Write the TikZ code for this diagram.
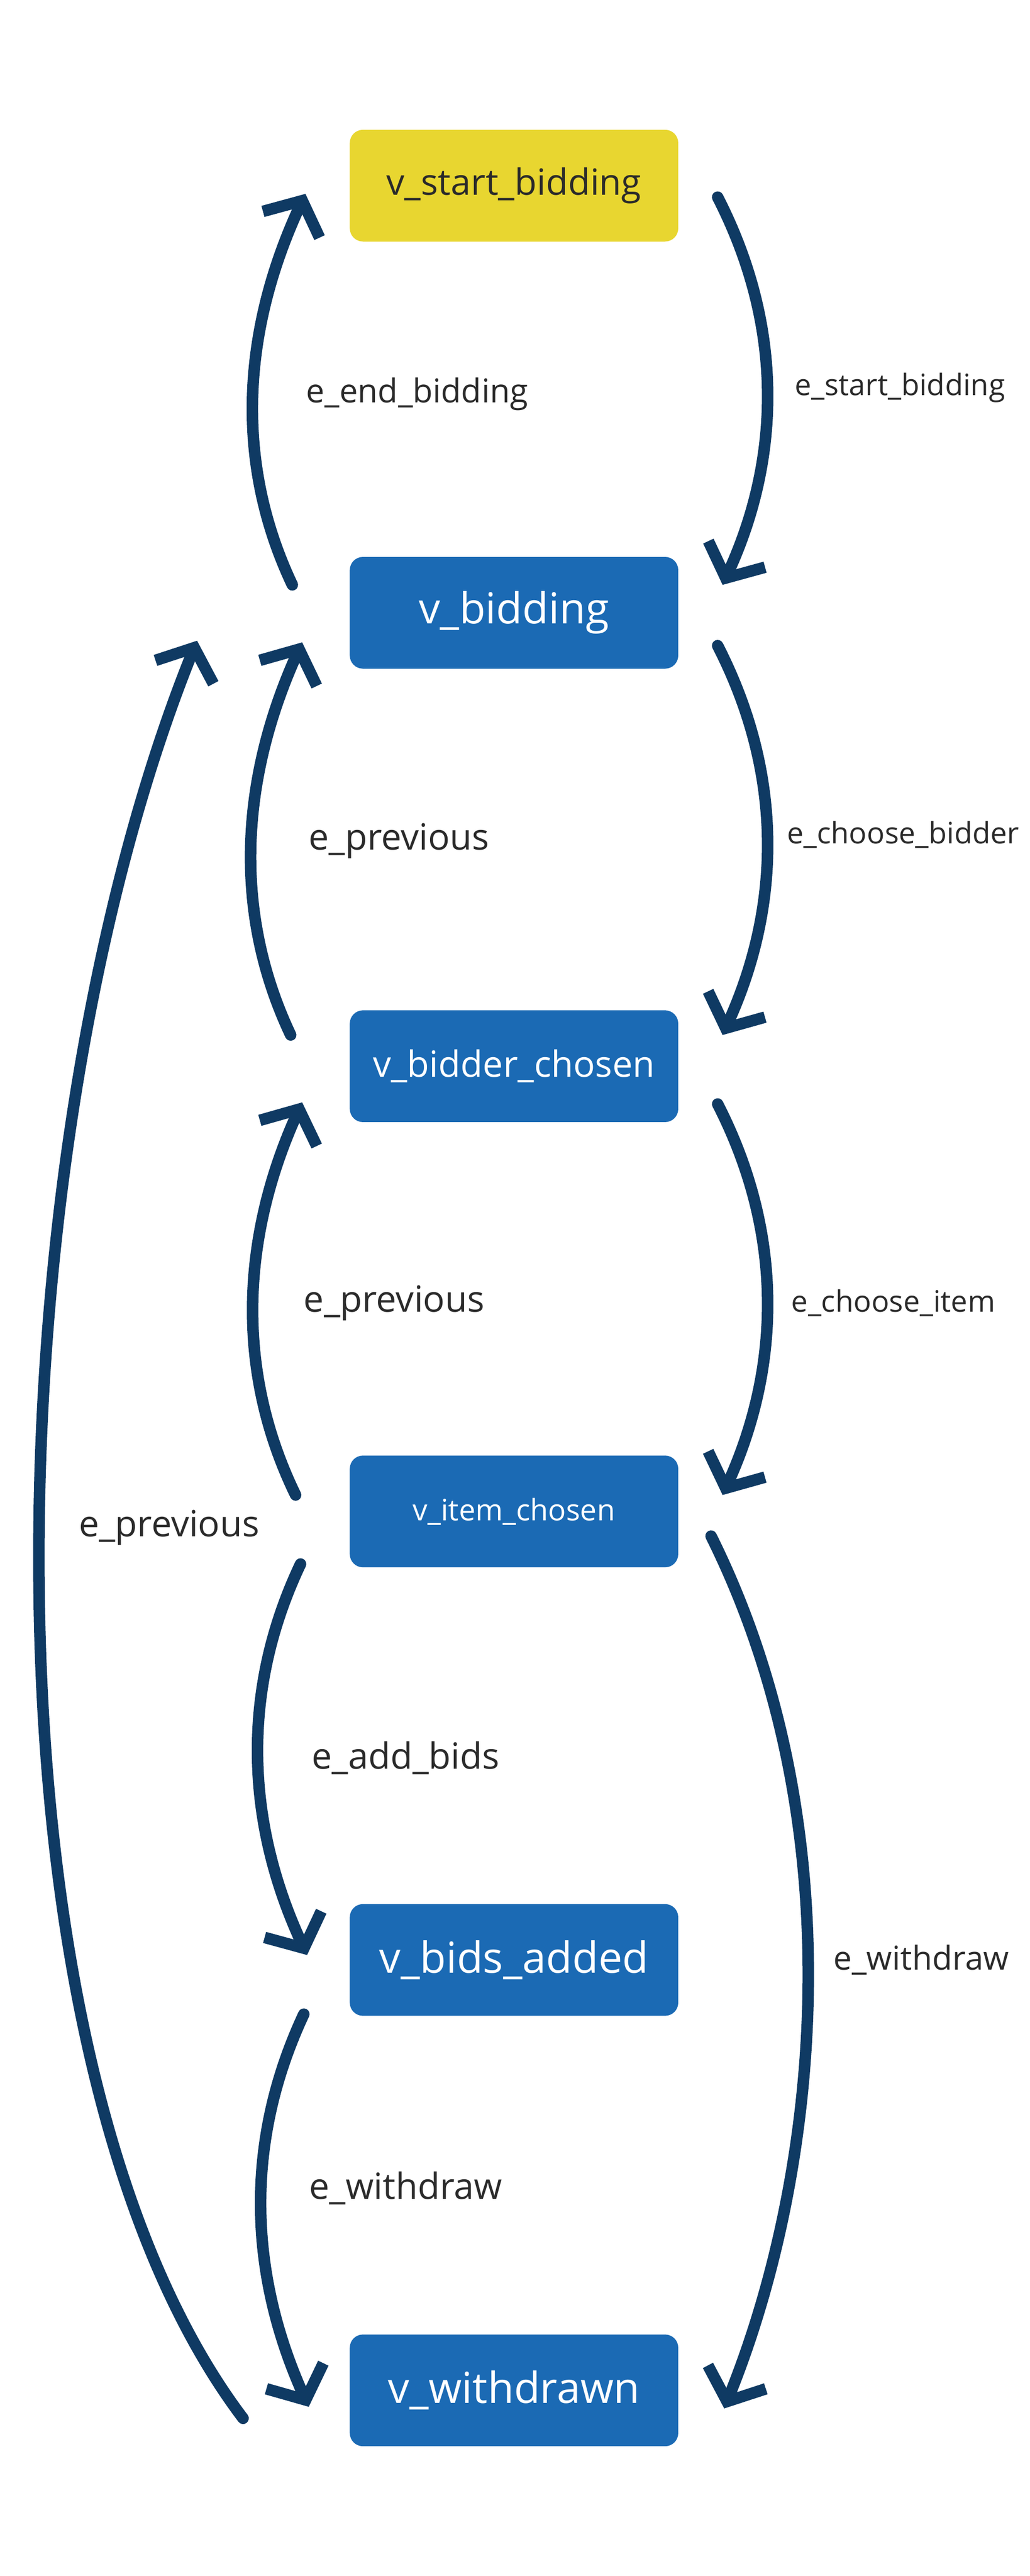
\documentclass[tikz,border=0pt]{standalone}
\usepackage{fontspec}
\setmainfont{Open Sans}
\usetikzlibrary{arrows.meta}
\definecolor{nblue}{HTML}{1B6AB4}
\definecolor{nyellow}{HTML}{E8D630}
\definecolor{edge}{HTML}{0F3A63}
\definecolor{txt}{HTML}{2A2A2A}
\begin{document}
\begin{tikzpicture}[x=1pt,y=-1pt,
  state/.style={rounded corners=8pt,minimum width=200pt,minimum height=68pt,fill=nblue,text=white,inner sep=0pt},
  conn/.style={draw=edge,line width=7pt,line cap=round,-{Straight Barb[length=16pt,width=38pt,line width=7pt]}},
  lbl/.style={text=txt,font=\fontsize{22}{26}\selectfont}]
\useasboundingbox (0,0) rectangle (627,1568);
\node[state,fill=nyellow,text=txt,font=\fontsize{22}{26}\selectfont] (s) at (313,113) {v\_start\_bidding};
\node[state,font=\fontsize{26}{30}\selectfont] (b) at (313,373) {v\_bidding};
\node[state,font=\fontsize{22}{26}\selectfont] (bc) at (313,649) {v\_bidder\_chosen};
\node[state,font=\fontsize{18}{22}\selectfont] (ic) at (313,920) {v\_item\_chosen};
\node[state,font=\fontsize{26}{30}\selectfont] (ba) at (313,1193) {v\_bids\_added};
\node[state,font=\fontsize{26}{30}\selectfont] (w) at (313,1455) {v\_withdrawn};
% coordinates
\coordinate (r1a) at (437,120); \coordinate (r1b) at (440,356);
\coordinate (r2a) at (437,393); \coordinate (r2b) at (440,630);
\coordinate (r3a) at (437,672); \coordinate (r3b) at (440,910);
\coordinate (l1a) at (178,356); \coordinate (l1b) at (186,118);
\coordinate (l2a) at (177,630); \coordinate (l2b) at (184,391);
\coordinate (l3a) at (180,910); \coordinate (l3b) at (184,671);
\coordinate (d1a) at (183,952); \coordinate (d1b) at (187,1190);
\coordinate (d2a) at (185,1226); \coordinate (d2b) at (188,1465);
\coordinate (ga) at (148,1472); \coordinate (gb) at (120,390);
\coordinate (ha) at (433,935); \coordinate (hb) at (441,1466);
\draw[conn] (r1a) .. controls (478,200) and (475,280) .. (r1b);
\draw[conn] (r2a) .. controls (478,473) and (475,553) .. (r2b);
\draw[conn] (r3a) .. controls (478,752) and (475,833) .. (r3b);
\draw[conn] (l1a) .. controls (142,280) and (148,200) .. (l1b);
\draw[conn] (l2a) .. controls (141,554) and (147,473) .. (l2b);
\draw[conn] (l3a) .. controls (143,834) and (147,753) .. (l3b);
\draw[conn] (d1a) .. controls (146,1030) and (150,1110) .. (d1b);
\draw[conn] (d2a) .. controls (148,1305) and (152,1385) .. (d2b);
\draw[conn] (ga) .. controls (-20,1250) and (-5,700) .. (gb);
\draw[conn] (ha) .. controls (520,1110) and (500,1320) .. (hb);
\node[lbl,font=\fontsize{20}{24}\selectfont] at (254,240) {e\_end\_bidding};
\node[lbl,font=\fontsize{18}{22}\selectfont] at (548,236) {e\_start\_bidding};
\node[lbl] at (243,512) {e\_previous};
\node[lbl,font=\fontsize{18}{22}\selectfont] at (550,508) {e\_choose\_bidder};
\node[lbl] at (240,793) {e\_previous};
\node[lbl,font=\fontsize{18}{22}\selectfont] at (544,793) {e\_choose\_item};
\node[lbl] at (103,930) {e\_previous};
\node[lbl] at (247,1070) {e\_add\_bids};
\node[lbl,font=\fontsize{20}{24}\selectfont] at (561,1193) {e\_withdraw};
\node[lbl] at (247,1332) {e\_withdraw};
\end{tikzpicture}
\end{document}
